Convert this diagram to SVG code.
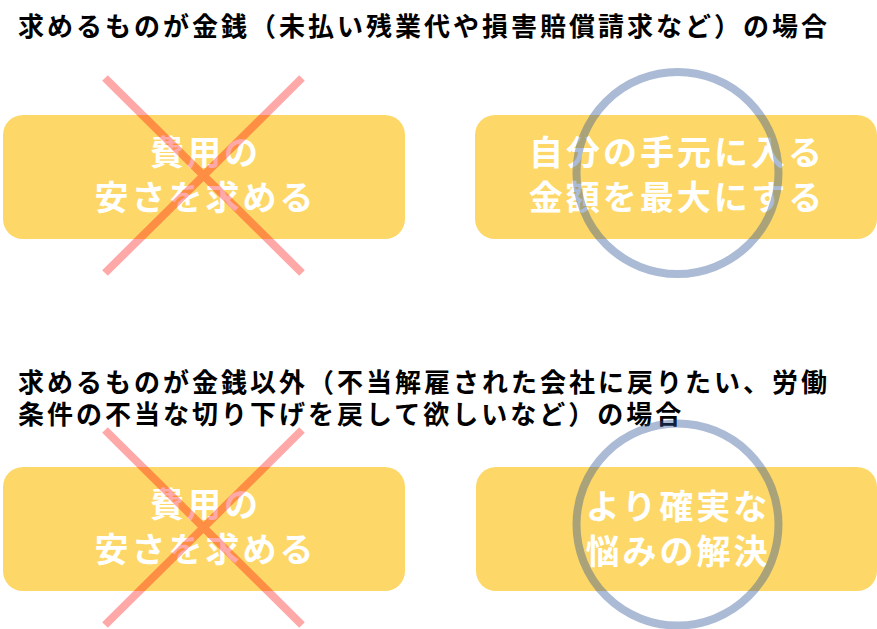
<svg xmlns="http://www.w3.org/2000/svg" width="877" height="629" viewBox="0 0 877 629">
<style>
.title{font-family:"Noto Sans CJK JP","Liberation Sans",sans-serif;font-size:26px;font-weight:700;letter-spacing:3px;fill:#000}
.box{fill:#FDD868}
.lbl{font-family:"Noto Sans CJK JP","Liberation Sans",sans-serif;font-size:34px;font-weight:700;letter-spacing:3px;fill:#fff;text-anchor:middle}
.ng{stroke:#ff0000;stroke-opacity:0.34;stroke-width:8;fill:none}
.ok{stroke:#2e5596;stroke-opacity:0.4;stroke-width:8;fill:none}
</style>
<rect width="877" height="629" fill="#fff"/>
<g id="title1"><text class="title" x="18" y="36">求めるものが金銭（未払い残業代や損害賠償請求など）の場合</text></g>
<g id="title2"><text class="title"><tspan x="18" y="392">求めるものが金銭以外（不当解雇された会社に戻りたい、労働</tspan><tspan x="18" y="424">条件の不当な切り下げを戻して欲しいなど）の場合</tspan></text></g>
<g id="node-a1"><rect class="box" x="3" y="115" width="402" height="124" rx="20"/><text class="lbl"><tspan x="205.5" y="164.5">費用の</tspan><tspan x="205.5" y="209.5">安さを求める</tspan></text></g>
<g id="node-b1"><rect class="box" x="475" y="115" width="402" height="124" rx="20"/><text class="lbl"><tspan x="677" y="164.5">自分の手元に入る</tspan><tspan x="677" y="209.5">金額を最大にする</tspan></text></g>
<g id="node-a2"><rect class="box" x="3" y="467" width="402" height="124" rx="20"/><text class="lbl"><tspan x="205.5" y="516.5">費用の</tspan><tspan x="205.5" y="561.5">安さを求める</tspan></text></g>
<g id="node-b2"><rect class="box" x="476" y="467" width="401" height="124" rx="20"/><text class="lbl"><tspan x="678" y="518.5">より確実な</tspan><tspan x="678" y="563.5">悩みの解決</tspan></text></g>
<g id="connectors">
<path class="ng" d="M105 78L302 273M302 78L105 273"/>
<path class="ng" d="M105 430L302 625M302 430L105 625"/>
<circle class="ok" cx="677.5" cy="173" r="101"/>
<circle class="ok" cx="677.5" cy="524.5" r="101"/>
</g>
</svg>
